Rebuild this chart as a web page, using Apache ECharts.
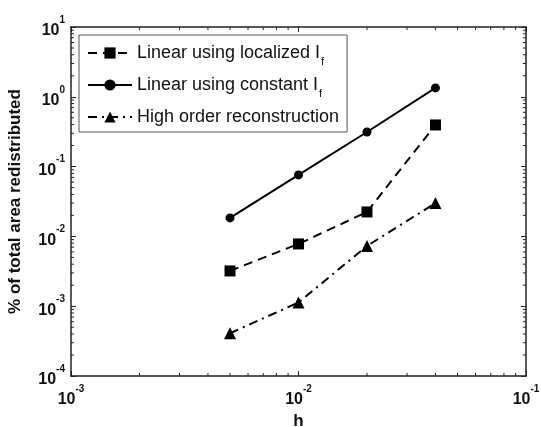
<!DOCTYPE html>
<html>
<head>
<meta charset="utf-8">
<script src="https://cdn.jsdelivr.net/npm/echarts@6/dist/echarts.min.js"></script>
<style>
html,body{margin:0;padding:0;background:#fff;}
#chart{width:541px;height:427px;}
</style>
</head>
<body>
<div id="chart"></div>
<script>
// ---- data ----
var hValues = [0.005, 0.01, 0.02, 0.04];
var linearLocalized = [0.0032, 0.0078, 0.0224, 0.395];
var linearConstant = [0.0184, 0.076, 0.313, 1.34];
var highOrder = [0.00041, 0.00113, 0.0073, 0.030];
var seriesNames = ['Linear using localized I', 'Linear using constant I', 'High order reconstruction'];
var seriesSubs = ['f', 'f', ''];
var xTickExps = [-3, -2, -1];
var yTickExps = [-4, -3, -2, -1, 0, 1];

function pairs(xs, ys) { return xs.map(function (x, i) { return [x, ys[i]]; }); }

var FONT = '"Liberation Sans", Arial, sans-serif';
var AX = '#222';

function expLabel(v) {
  var e = Math.round(Math.log10(v));
  return '{b|10}{e|' + e + '}';
}
var labelRich = {
  b: { fontSize: 16, fontWeight: 'bold', fontFamily: FONT, color: '#111', lineHeight: 24, verticalAlign: 'bottom' },
  e: { fontSize: 10, fontWeight: 'bold', fontFamily: FONT, color: '#111', lineHeight: 12, verticalAlign: 'top' }
};

// minor tick values (2..9 per decade)
var xMinor = [], yMinor = [];
for (var d = -3; d < -1; d++) for (var m = 2; m <= 9; m++) xMinor.push(m * Math.pow(10, d));
for (var d2 = -4; d2 < 1; d2++) for (var m2 = 2; m2 <= 9; m2++) yMinor.push(m2 * Math.pow(10, d2));

var chart = echarts.init(document.getElementById('chart'), null, { renderer: 'canvas' });

var commonAxisLine = { show: true, lineStyle: { color: AX, width: 1.5 } };
var commonTick = { show: true, inside: true, length: 5, lineStyle: { color: AX, width: 1 } };

var option = {
  backgroundColor: '#fff',
  animation: false,
  grid: { left: 71, right: 15, top: 27, bottom: 51, containLabel: false, outerBoundsMode: 'none' },
  legend: {
    orient: 'vertical',
    left: 79,
    top: 35,
    padding: [9, 8, 6, 8],
    borderColor: '#555',
    borderWidth: 1,
    backgroundColor: '#fff',
    itemWidth: 44,
    itemHeight: 14,
    itemGap: 9,
    data: seriesNames,
    formatter: function (name) {
      var i = seriesNames.indexOf(name);
      return seriesSubs[i] ? '{t|' + name + '}{s|' + seriesSubs[i] + '}' : '{t|' + name + '}';
    },
    textStyle: {
      fontFamily: FONT,
      fontSize: 18,
      color: '#111',
      rich: {
        t: { fontSize: 18, fontFamily: FONT, color: '#111', lineHeight: 18 },
        s: { fontSize: 11, fontFamily: FONT, color: '#111', verticalAlign: 'bottom', lineHeight: 12, padding: [0, 0, -5, 1] }
      }
    }
  },
  xAxis: [{
    type: 'log', min: 0.001, max: 0.1, logBase: 10,
    name: 'h', nameLocation: 'middle', nameGap: 32,
    nameTextStyle: { fontFamily: FONT, fontSize: 17, fontWeight: 'bold', color: '#111' },
    axisLine: commonAxisLine, axisTick: commonTick,
    axisLabel: { formatter: expLabel, rich: labelRich, margin: 8 },
    splitLine: { show: false }
  }, {
    type: 'log', min: 0.001, max: 0.1, position: 'top',
    axisLine: commonAxisLine, axisTick: commonTick,
    axisLabel: { show: false }, splitLine: { show: false }
  }],
  yAxis: [{
    type: 'log', min: 1e-4, max: 10, logBase: 10,
    name: '% of total area redistributed', nameLocation: 'middle', nameGap: 47,
    nameTextStyle: { fontFamily: FONT, fontSize: 17, fontWeight: 'bold', color: '#111' },
    axisLine: commonAxisLine, axisTick: commonTick,
    axisLabel: { formatter: expLabel, rich: labelRich, margin: 6 },
    splitLine: { show: false }
  }, {
    type: 'log', min: 1e-4, max: 10, position: 'right',
    axisLine: commonAxisLine, axisTick: commonTick,
    axisLabel: { show: false }, splitLine: { show: false }
  }],
  series: [{
    name: seriesNames[0], type: 'line', data: pairs(hValues, linearLocalized),
    symbol: 'rect', symbolSize: 11,
    itemStyle: { color: '#000' },
    lineStyle: { color: '#000', width: 2, type: [9, 6] }
  }, {
    name: seriesNames[1], type: 'line', data: pairs(hValues, linearConstant),
    symbol: 'circle', symbolSize: 9,
    itemStyle: { color: '#000' },
    lineStyle: { color: '#000', width: 2, type: 'solid' }
  }, {
    name: seriesNames[2], type: 'line', data: pairs(hValues, highOrder),
    symbol: 'triangle', symbolSize: 12,
    itemStyle: { color: '#000' },
    lineStyle: { color: '#000', width: 2, type: [9, 5, 2, 5] }
  }, {
    type: 'custom', silent: true, clip: false, z: 1,
    data: xMinor.map(function (v) { return [v, 1]; }),
    encode: { x: 0, y: 1 },
    renderItem: function (params, api) {
      var p = api.coord([api.value(0), 1]);
      var cs = params.coordSys;
      var st = { stroke: AX, lineWidth: 1 };
      return { type: 'group', children: [
        { type: 'line', shape: { x1: p[0], y1: cs.y + cs.height, x2: p[0], y2: cs.y + cs.height - 3 }, style: st },
        { type: 'line', shape: { x1: p[0], y1: cs.y, x2: p[0], y2: cs.y + 3 }, style: st }
      ]};
    }
  }, {
    type: 'custom', silent: true, clip: false, z: 1,
    data: yMinor.map(function (v) { return [0.01, v]; }),
    encode: { x: 0, y: 1 },
    renderItem: function (params, api) {
      var p = api.coord([0.01, api.value(1)]);
      var cs = params.coordSys;
      var st = { stroke: AX, lineWidth: 1 };
      return { type: 'group', children: [
        { type: 'line', shape: { x1: cs.x, y1: p[1], x2: cs.x + 3, y2: p[1] }, style: st },
        { type: 'line', shape: { x1: cs.x + cs.width, y1: p[1], x2: cs.x + cs.width - 3, y2: p[1] }, style: st }
      ]};
    }
  }]
};
chart.setOption(option);
</script>
</body>
</html>
